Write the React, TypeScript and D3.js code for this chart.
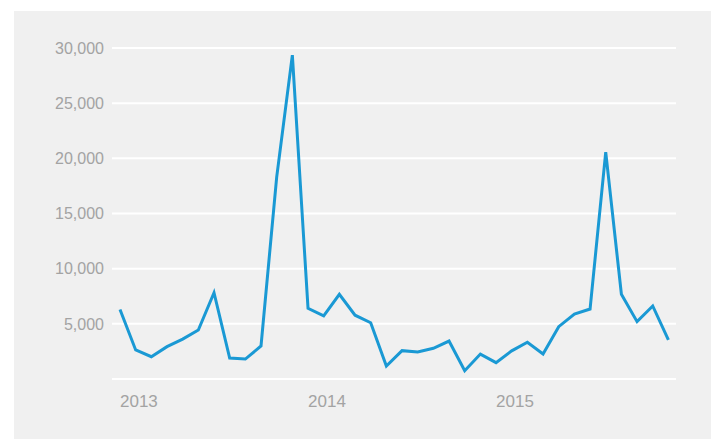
import React from "react";
import * as d3 from "d3";

const months: string[] = [
  "2013-01","2013-02","2013-03","2013-04","2013-05","2013-06","2013-07","2013-08","2013-09","2013-10","2013-11","2013-12",
  "2014-01","2014-02","2014-03","2014-04","2014-05","2014-06","2014-07","2014-08","2014-09","2014-10","2014-11","2014-12",
  "2015-01","2015-02","2015-03","2015-04","2015-05","2015-06","2015-07","2015-08","2015-09","2015-10","2015-11","2015-12",
];
const values: number[] = [
  6300, 2630, 2020, 2930, 3620, 4440, 7820, 1900, 1810, 2990, 18300, 29350,
  6400, 5720, 7680, 5780, 5100, 1180, 2570, 2450, 2780, 3440, 750, 2260,
  1480, 2550, 3330, 2260, 4740, 5890, 6340, 20560, 7680, 5200, 6620, 3550,
];
const yTicks: number[] = [5000, 10000, 15000, 20000, 25000, 30000];
const gridValues: number[] = [0, 5000, 10000, 15000, 20000, 25000, 30000];
const yearLabels: string[] = ["2013", "2014", "2015"];
const yearIndex: number[] = [0, 12, 24];

export default function App() {
  const W = 716, H = 439;
  const x = d3.scaleLinear().domain([0, months.length - 1]).range([120, 668.4]);
  const y = d3.scaleLinear().domain([0, 30000]).range([379, 48]);
  const line = d3.line<number>().x((_, i) => x(i)).y((d) => y(d));
  const fmt = d3.format(",");
  const font = "'Liberation Sans', Arial, sans-serif";
  return (
    <svg width={W} height={H} style={{ position: "absolute", left: 0, top: 0, background: "#ffffff" }}>
      <rect x={14} y={11} width={697} height={H - 11} fill="#f0f0f0" />
      {gridValues.map((v) => (
        <line key={v} x1={112} x2={676} y1={y(v)} y2={y(v)} stroke="#ffffff" strokeWidth={2} />
      ))}
      {yTicks.map((v) => (
        <text key={v} x={104} y={y(v)} dy="0.36em" textAnchor="end" fontFamily={font} fontSize={16} fill="#a3a3a3">
          {fmt(v)}
        </text>
      ))}
      {yearLabels.map((l, k) => (
        <text key={l} x={x(yearIndex[k])} y={407} textAnchor="start" fontFamily={font} fontSize={17} fill="#a3a3a3">
          {l}
        </text>
      ))}
      <path d={line(values) || ""} fill="none" stroke="#1a99d4" strokeWidth={3} strokeLinejoin="miter" />
    </svg>
  );
}
